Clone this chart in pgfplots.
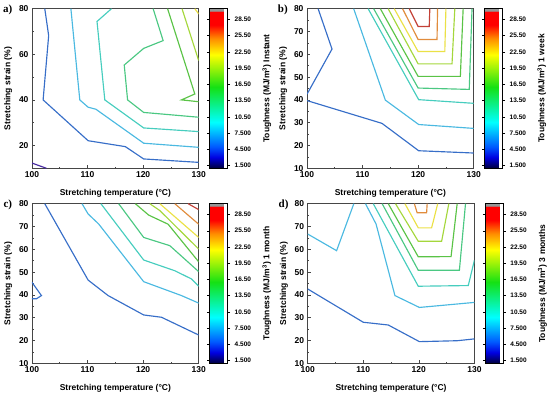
\documentclass[border=0pt]{standalone}
\usepackage{fontspec}
\setmainfont{Liberation Sans}
\newfontfamily\timesfont{Liberation Serif}
\usepackage{pgfplots}
\pgfplotsset{compat=1.18}
\definecolor{l15}{RGB}{70,40,160}
\definecolor{l45}{RGB}{55,110,200}
\definecolor{l75}{RGB}{75,185,225}
\definecolor{l105}{RGB}{70,205,190}
\definecolor{l135}{RGB}{75,200,130}
\definecolor{l165}{RGB}{90,195,70}
\definecolor{l195}{RGB}{165,215,60}
\definecolor{l225}{RGB}{235,225,70}
\definecolor{l255}{RGB}{225,140,60}
\definecolor{l285}{RGB}{195,65,55}
\definecolor{axgray}{RGB}{70,70,70}
\pgfplotsset{
  colorbar shift/.style={},
  panel/.style n args={2}{
    scale only axis, width=166.7pt, height=159.6pt,
    xmin=100, xmax=130, ymin=10, ymax=80,
    xtick={100,110,120,130}, minor x tick num=1,
    minor y tick num=1,
    tick pos=left, tick align=inside,
    major tick length=3pt, minor tick length=1.6pt,
    axis line style={draw=axgray, line width=0.8pt},
    every tick/.style={axgray, line width=0.6pt},
    tick label style={font=\fontsize{8.5}{9}\selectfont\bfseries},
    /pgf/number format/assume math mode=true,
    label style={font=\fontsize{8.5}{9}\selectfont\bfseries},
    xlabel style={yshift=-4.5pt},
    xlabel={Stretching temperature (°C)},
    ylabel={Stretching strain (\%)},
    colormap={tough}{rgb255(1pt)=(0,0,60); rgb255(3pt)=(0,0,225); rgb255(5pt)=(0,90,255); rgb255(9.5pt)=(0,255,255); rgb255(16pt)=(20,225,20); rgb255(22pt)=(255,255,0); rgb255(25pt)=(255,140,0); rgb255(27.5pt)=(255,0,0); rgb255(30pt)=(255,0,0); rgb255(30.05pt)=(150,150,150); rgb255(30.5pt)=(150,150,150)},
    point meta min=1, point meta max=30.5,
    colorbar,
    colorbar style={
      at={(parent axis.north east)}, anchor=north west, xshift=11pt,
      width=18pt,
      ytick={1.5,4.5,...,28.5},
      yticklabels={1.500,4.500,7.500,10.50,13.50,16.50,19.50,22.50,25.50,28.50},
      yticklabel style={font=\fontsize{6.5}{7}\selectfont\bfseries, xshift=1pt},
      ytick style={black, line width=0.5pt},
      major tick length=2.5pt,
      tick align=outside,
      axis line style={black, line width=0.8pt},
      ylabel={Toughness (MJ/m\textsuperscript{3}) #2},
      ylabel style={font=\fontsize{8.5}{9}\selectfont\bfseries, at={(axis description cs:3.17,0.5)}, anchor=center},
    },
    no marks,
    every axis plot/.append style={line width=1.15pt},
    extra description/.code={\node[font=\timesfont\bfseries\fontsize{11}{11}\selectfont] at (-0.145,0.99) {#1};},
  }
}
\begin{document}
\begin{tikzpicture}[x=1pt,y=1pt]
\path[use as bounding box] (0,0) rectangle (550,394);
% ---------- a) ----------
\begin{axis}[panel={a)}{Instant}, at={(32pt,225.7pt)}, anchor=south west, ytick={20,40,60,80}]
\addplot[l15] coordinates {(100,12.3) (102.6,10)};
\addplot[l45] coordinates {(102.3,80) (103,68.2) (102,40) (110.1,22.1) (116.8,19.5) (120.1,14.1) (130,12.6)};
\addplot[l75] coordinates {(107,80) (108.6,40) (110.1,36.8) (111.5,35.9) (120.1,21.0) (130,19.2)};
\addplot[l105] coordinates {(114.3,80) (111.7,74.4) (113.1,40) (120.1,27.7) (130,26.1)};
\addplot[l135] coordinates {(121.8,80) (123.6,66) (120.1,62.6) (116.6,55.3) (117.2,40) (120.1,34.5) (130,32.4)};
\addplot[l165] coordinates {(124.4,80) (129.3,42.6) (126.9,40) (130,39.2)};
\addplot[l195] coordinates {(127,80) (130,57.2)};
\addplot[l225] coordinates {(129.3,80) (130,77.7)};
\end{axis}
% ---------- b) ----------
\begin{axis}[panel={b)}{1 week}, at={(307pt,225.7pt)}, anchor=south west, ytick={10,20,...,80}]
\addplot[l45] coordinates {(102,80) (104.5,62.3) (100,42.5)};
\addplot[l45] coordinates {(100,39.7) (113.5,29.7) (120.1,17.7) (130,16.7)};
\addplot[l75] coordinates {(108.4,80) (114.1,39.9) (120.1,29.2) (130,27.5)};
\addplot[l105] coordinates {(111,80) (120.1,40.1) (130,38.5)};
\addplot[l135] coordinates {(112,80) (120,45.2) (129.2,44.6) (129.7,80)};
\addplot[l165] coordinates {(113.2,80) (120,50.3) (127.6,50.3) (128.1,80)};
\addplot[l195] coordinates {(114.6,80) (120,55.8) (126.1,55.8) (126.6,80)};
\addplot[l225] coordinates {(115.7,80) (120,61.2) (124.8,61.2) (125,80)};
\addplot[l255] coordinates {(117.2,80) (120,66.5) (123.4,66.5) (123.5,80)};
\addplot[l285] coordinates {(118.4,80) (120,72.2) (122,72.2) (122.1,80)};
\end{axis}
% ---------- c) ----------
\begin{axis}[panel={c)}{1 month}, at={(32pt,30.7pt)}, anchor=south west, ytick={10,20,...,80}]
\addplot[l45] coordinates {(102.3,80) (110.1,46.5) (113.7,39.7) (120.1,31.2) (123.3,30.2) (130,22.4)};
\addplot[l45] coordinates {(100,45.5) (101.7,39.7) (100.8,38.3) (100,38.3)};
\addplot[l75] coordinates {(109,80) (110.1,75.5) (112,71.1) (120.1,45.8) (126.9,39.7) (130,36.4)};
\addplot[l105] coordinates {(112.4,80) (120.1,55.3) (125.7,50.6) (128.7,47) (130,43.8)};
\addplot[l135] coordinates {(115.6,80) (120.1,65.2) (124.8,61.6) (130,50.2)};
\addplot[l165] coordinates {(118.6,80) (121,75) (124.5,71) (130,54.5)};
\addplot[l195] coordinates {(121.2,80) (123,77) (130,60.1)};
\addplot[l225] coordinates {(123,80) (130,65.2)};
\addplot[l255] coordinates {(125.7,80) (130,71)};
\addplot[l285] coordinates {(128.1,80) (130,77.4)};
\end{axis}
% ---------- d) ----------
\begin{axis}[panel={d)}{3 months}, at={(307.7pt,30.7pt)}, anchor=south west, ytick={10,20,...,80}]
\addplot[l45] coordinates {(100,42.6) (110,28) (114.5,26.8) (120.1,19.5) (126.9,19.9) (130,20.7)};
\addplot[l75] coordinates {(100,66.7) (105.2,59.4) (108.3,80)};
\addplot[l75] coordinates {(110.4,80) (112.3,71.1) (115.7,39.7) (120.1,34.5) (130,36.7)};
\addplot[l105] coordinates {(111.8,80) (119.9,43.8) (128.9,44.1) (130,55.2)};
\addplot[l135] coordinates {(113.4,80) (119.9,50.8) (127.3,50.8) (128.4,80)};
\addplot[l165] coordinates {(114.5,80) (119.9,56.7) (125.8,56.8) (126.9,80)};
\addplot[l195] coordinates {(115.8,80) (119.9,63.5) (124.1,63.5) (125.4,80)};
\addplot[l225] coordinates {(117.5,80) (119.9,69.4) (122.3,69.4) (123.4,80)};
\addplot[l255] coordinates {(119.2,80) (119.7,76) (121.4,76) (121.5,80)};
\end{axis}
\end{tikzpicture}
\end{document}
